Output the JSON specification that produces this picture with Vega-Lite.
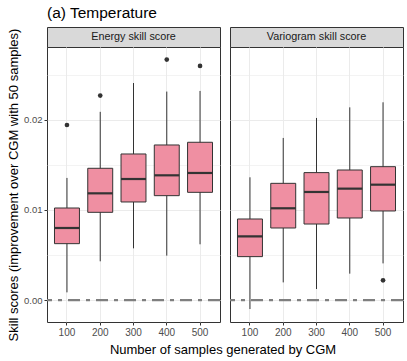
{
  "$schema": "https://vega.github.io/schema/vega-lite/v6.json",
  "padding": {"left": 7, "top": 6, "right": 3, "bottom": 5},
  "background": "white",
  "title": {"text": "(a) Temperature", "anchor": "start", "frame": "group", "fontSize": 15.5, "fontWeight": "normal", "font": "Liberation Sans", "color": "#000000", "offset": 5},
  "datasets": {
    "energy": [
      {"n": "100", "lower": 0.00085, "q1": 0.00626, "median": 0.0080, "q3": 0.01022, "upper": 0.01356},
      {"n": "200", "lower": 0.0043, "q1": 0.00974, "median": 0.01185, "q3": 0.01463, "upper": 0.0209},
      {"n": "300", "lower": 0.00574, "q1": 0.01089, "median": 0.01344, "q3": 0.01622, "upper": 0.0241},
      {"n": "400", "lower": 0.00493, "q1": 0.01159, "median": 0.01385, "q3": 0.01722, "upper": 0.02315},
      {"n": "500", "lower": 0.00619, "q1": 0.01196, "median": 0.01411, "q3": 0.01752, "upper": 0.02322}
    ],
    "energy_out": [
      {"n": "100", "value": 0.01944},
      {"n": "200", "value": 0.0227},
      {"n": "400", "value": 0.0267},
      {"n": "500", "value": 0.0260}
    ],
    "variogram": [
      {"n": "100", "lower": -0.0010, "q1": 0.00482, "median": 0.00707, "q3": 0.0090, "upper": 0.01363},
      {"n": "200", "lower": 0.00196, "q1": 0.0080, "median": 0.01019, "q3": 0.01296, "upper": 0.0180},
      {"n": "300", "lower": 0.00122, "q1": 0.00844, "median": 0.0120, "q3": 0.01415, "upper": 0.02022},
      {"n": "400", "lower": 0.00293, "q1": 0.00911, "median": 0.01237, "q3": 0.01444, "upper": 0.0214},
      {"n": "500", "lower": 0.00407, "q1": 0.00989, "median": 0.01281, "q3": 0.01481, "upper": 0.02196}
    ],
    "variogram_out": [
      {"n": "500", "value": 0.00219}
    ],
    "reference": [{"ref": 0}],
    "strip_energy": [{"label": "Energy skill score"}],
    "strip_variogram": [{"label": "Variogram skill score"}],
    "xtitle": [{"label": "Number of samples generated by CGM"}]
  },
  "spacing": 1,
  "vconcat": [
    {
      "spacing": 6,
      "hconcat": [
        {
          "spacing": 0,
          "bounds": "flush",
          "vconcat": [
            {
              "width": 173, "height": 20,
              "data": {"name": "strip_energy"},
              "view": {"fill": "#d9d9d9", "stroke": "#333333", "strokeWidth": 1},
              "mark": {"type": "text", "fontSize": 10.8, "color": "#1a1a1a", "font": "Liberation Sans"},
              "encoding": {"text": {"field": "label"}}
            },
            {
              "width": 173, "height": 275,
              "view": {"fill": "white", "stroke": "#333333", "strokeWidth": 1},
              "layer": [
                {
                  "data": {"name": "energy"},
                  "mark": {"type": "rule", "color": "#333333", "strokeWidth": 1},
                  "encoding": {
                    "x": {"field": "n", "type": "ordinal", "scale": {"paddingInner": 0.25, "paddingOuter": 0.225},
                      "axis": {"title": null, "labelAngle": 0, "bandPosition": 0.5, "grid": true}},
                    "y": {"field": "lower", "type": "quantitative", "scale": {"domain": [-0.00244, 0.0281], "nice": false, "zero": false},
                      "axis": {"title": "Skill scores (improvement over CGM with 50 samples)", "values": [0, 0.005, 0.01, 0.015, 0.02, 0.025],
                        "labelExpr": "round(datum.value*1000) % 10 == 0 ? format(datum.value, '.2f') : ''",
                        "labelFontSize": 9.5,
                        "tickOpacity": {"condition": {"test": "round(datum.value*1000) % 10 != 0", "value": 0}, "value": 1},
                        "gridWidth": {"condition": {"test": "round(datum.value*1000) % 10 != 0", "value": 0.6}, "value": 1.1}}},
                    "y2": {"field": "upper"}
                  }
                },
                {
                  "data": {"name": "energy"},
                  "mark": {"type": "bar", "fill": "#ef8fa2", "stroke": "#333333", "strokeWidth": 1},
                  "encoding": {
                    "x": {"field": "n", "type": "ordinal"},
                    "y": {"field": "q1", "type": "quantitative"},
                    "y2": {"field": "q3"}
                  }
                },
                {
                  "data": {"name": "energy"},
                  "mark": {"type": "tick", "color": "#333333", "thickness": 2.2, "size": 25, "opacity": 1},
                  "encoding": {
                    "x": {"field": "n", "type": "ordinal"},
                    "y": {"field": "median", "type": "quantitative"}
                  }
                },
                {
                  "data": {"name": "energy_out"},
                  "mark": {"type": "circle", "color": "#333333", "size": 22, "opacity": 1},
                  "encoding": {
                    "x": {"field": "n", "type": "ordinal"},
                    "y": {"field": "value", "type": "quantitative"}
                  }
                },
                {
                  "data": {"name": "reference"},
                  "mark": {"type": "rule", "color": "#7f7f7f", "strokeWidth": 2.2, "strokeDash": [12, 6, 4, 6]},
                  "encoding": {"y": {"field": "ref", "type": "quantitative"}}
                }
              ]
            }
          ]
        },
        {
          "spacing": 0,
          "bounds": "flush",
          "vconcat": [
            {
              "width": 173, "height": 20,
              "data": {"name": "strip_variogram"},
              "view": {"fill": "#d9d9d9", "stroke": "#333333", "strokeWidth": 1},
              "mark": {"type": "text", "fontSize": 10.8, "color": "#1a1a1a", "font": "Liberation Sans"},
              "encoding": {"text": {"field": "label"}}
            },
            {
              "width": 173, "height": 275,
              "view": {"fill": "white", "stroke": "#333333", "strokeWidth": 1},
              "layer": [
                {
                  "data": {"name": "variogram"},
                  "mark": {"type": "rule", "color": "#333333", "strokeWidth": 1},
                  "encoding": {
                    "x": {"field": "n", "type": "ordinal", "scale": {"paddingInner": 0.25, "paddingOuter": 0.225},
                      "axis": {"title": null, "labelAngle": 0, "bandPosition": 0.5, "grid": true}},
                    "y": {"field": "lower", "type": "quantitative", "scale": {"domain": [-0.00244, 0.0281], "nice": false, "zero": false},
                      "axis": {"title": null, "values": [0, 0.005, 0.01, 0.015, 0.02, 0.025], "labels": false, "ticks": false,
                        "gridWidth": {"condition": {"test": "round(datum.value*1000) % 10 != 0", "value": 0.6}, "value": 1.1}}},
                    "y2": {"field": "upper"}
                  }
                },
                {
                  "data": {"name": "variogram"},
                  "mark": {"type": "bar", "fill": "#ef8fa2", "stroke": "#333333", "strokeWidth": 1},
                  "encoding": {
                    "x": {"field": "n", "type": "ordinal"},
                    "y": {"field": "q1", "type": "quantitative"},
                    "y2": {"field": "q3"}
                  }
                },
                {
                  "data": {"name": "variogram"},
                  "mark": {"type": "tick", "color": "#333333", "thickness": 2.2, "size": 25, "opacity": 1},
                  "encoding": {
                    "x": {"field": "n", "type": "ordinal"},
                    "y": {"field": "median", "type": "quantitative"}
                  }
                },
                {
                  "data": {"name": "variogram_out"},
                  "mark": {"type": "circle", "color": "#333333", "size": 22, "opacity": 1},
                  "encoding": {
                    "x": {"field": "n", "type": "ordinal"},
                    "y": {"field": "value", "type": "quantitative"}
                  }
                },
                {
                  "data": {"name": "reference"},
                  "mark": {"type": "rule", "color": "#7f7f7f", "strokeWidth": 2.2, "strokeDash": [12, 6, 4, 6]},
                  "encoding": {"y": {"field": "ref", "type": "quantitative"}}
                }
              ]
            }
          ]
        }
      ]
    },
    {
      "width": 352, "height": 14,
      "data": {"name": "xtitle"},
      "view": {"stroke": null, "fill": null},
      "mark": {"type": "text", "fontSize": 13, "color": "#000000", "font": "Liberation Sans"},
      "encoding": {"text": {"field": "label"}}
    }
  ],
  "config": {
    "font": "Liberation Sans",
    "view": {"stroke": "#333333"},
    "axis": {
      "domain": false,
      "grid": true,
      "gridColor": "#ebebeb",
      "labelFont": "Liberation Sans",
      "labelFontSize": 10,
      "labelColor": "#4d4d4d",
      "labelPadding": 2,
      "tickColor": "#333333",
      "tickSize": 3,
      "tickWidth": 1,
      "titleFont": "Liberation Sans",
      "titleFontSize": 13,
      "titleFontWeight": "normal",
      "titleColor": "#000000",
      "titlePadding": 3
    }
  }
}
